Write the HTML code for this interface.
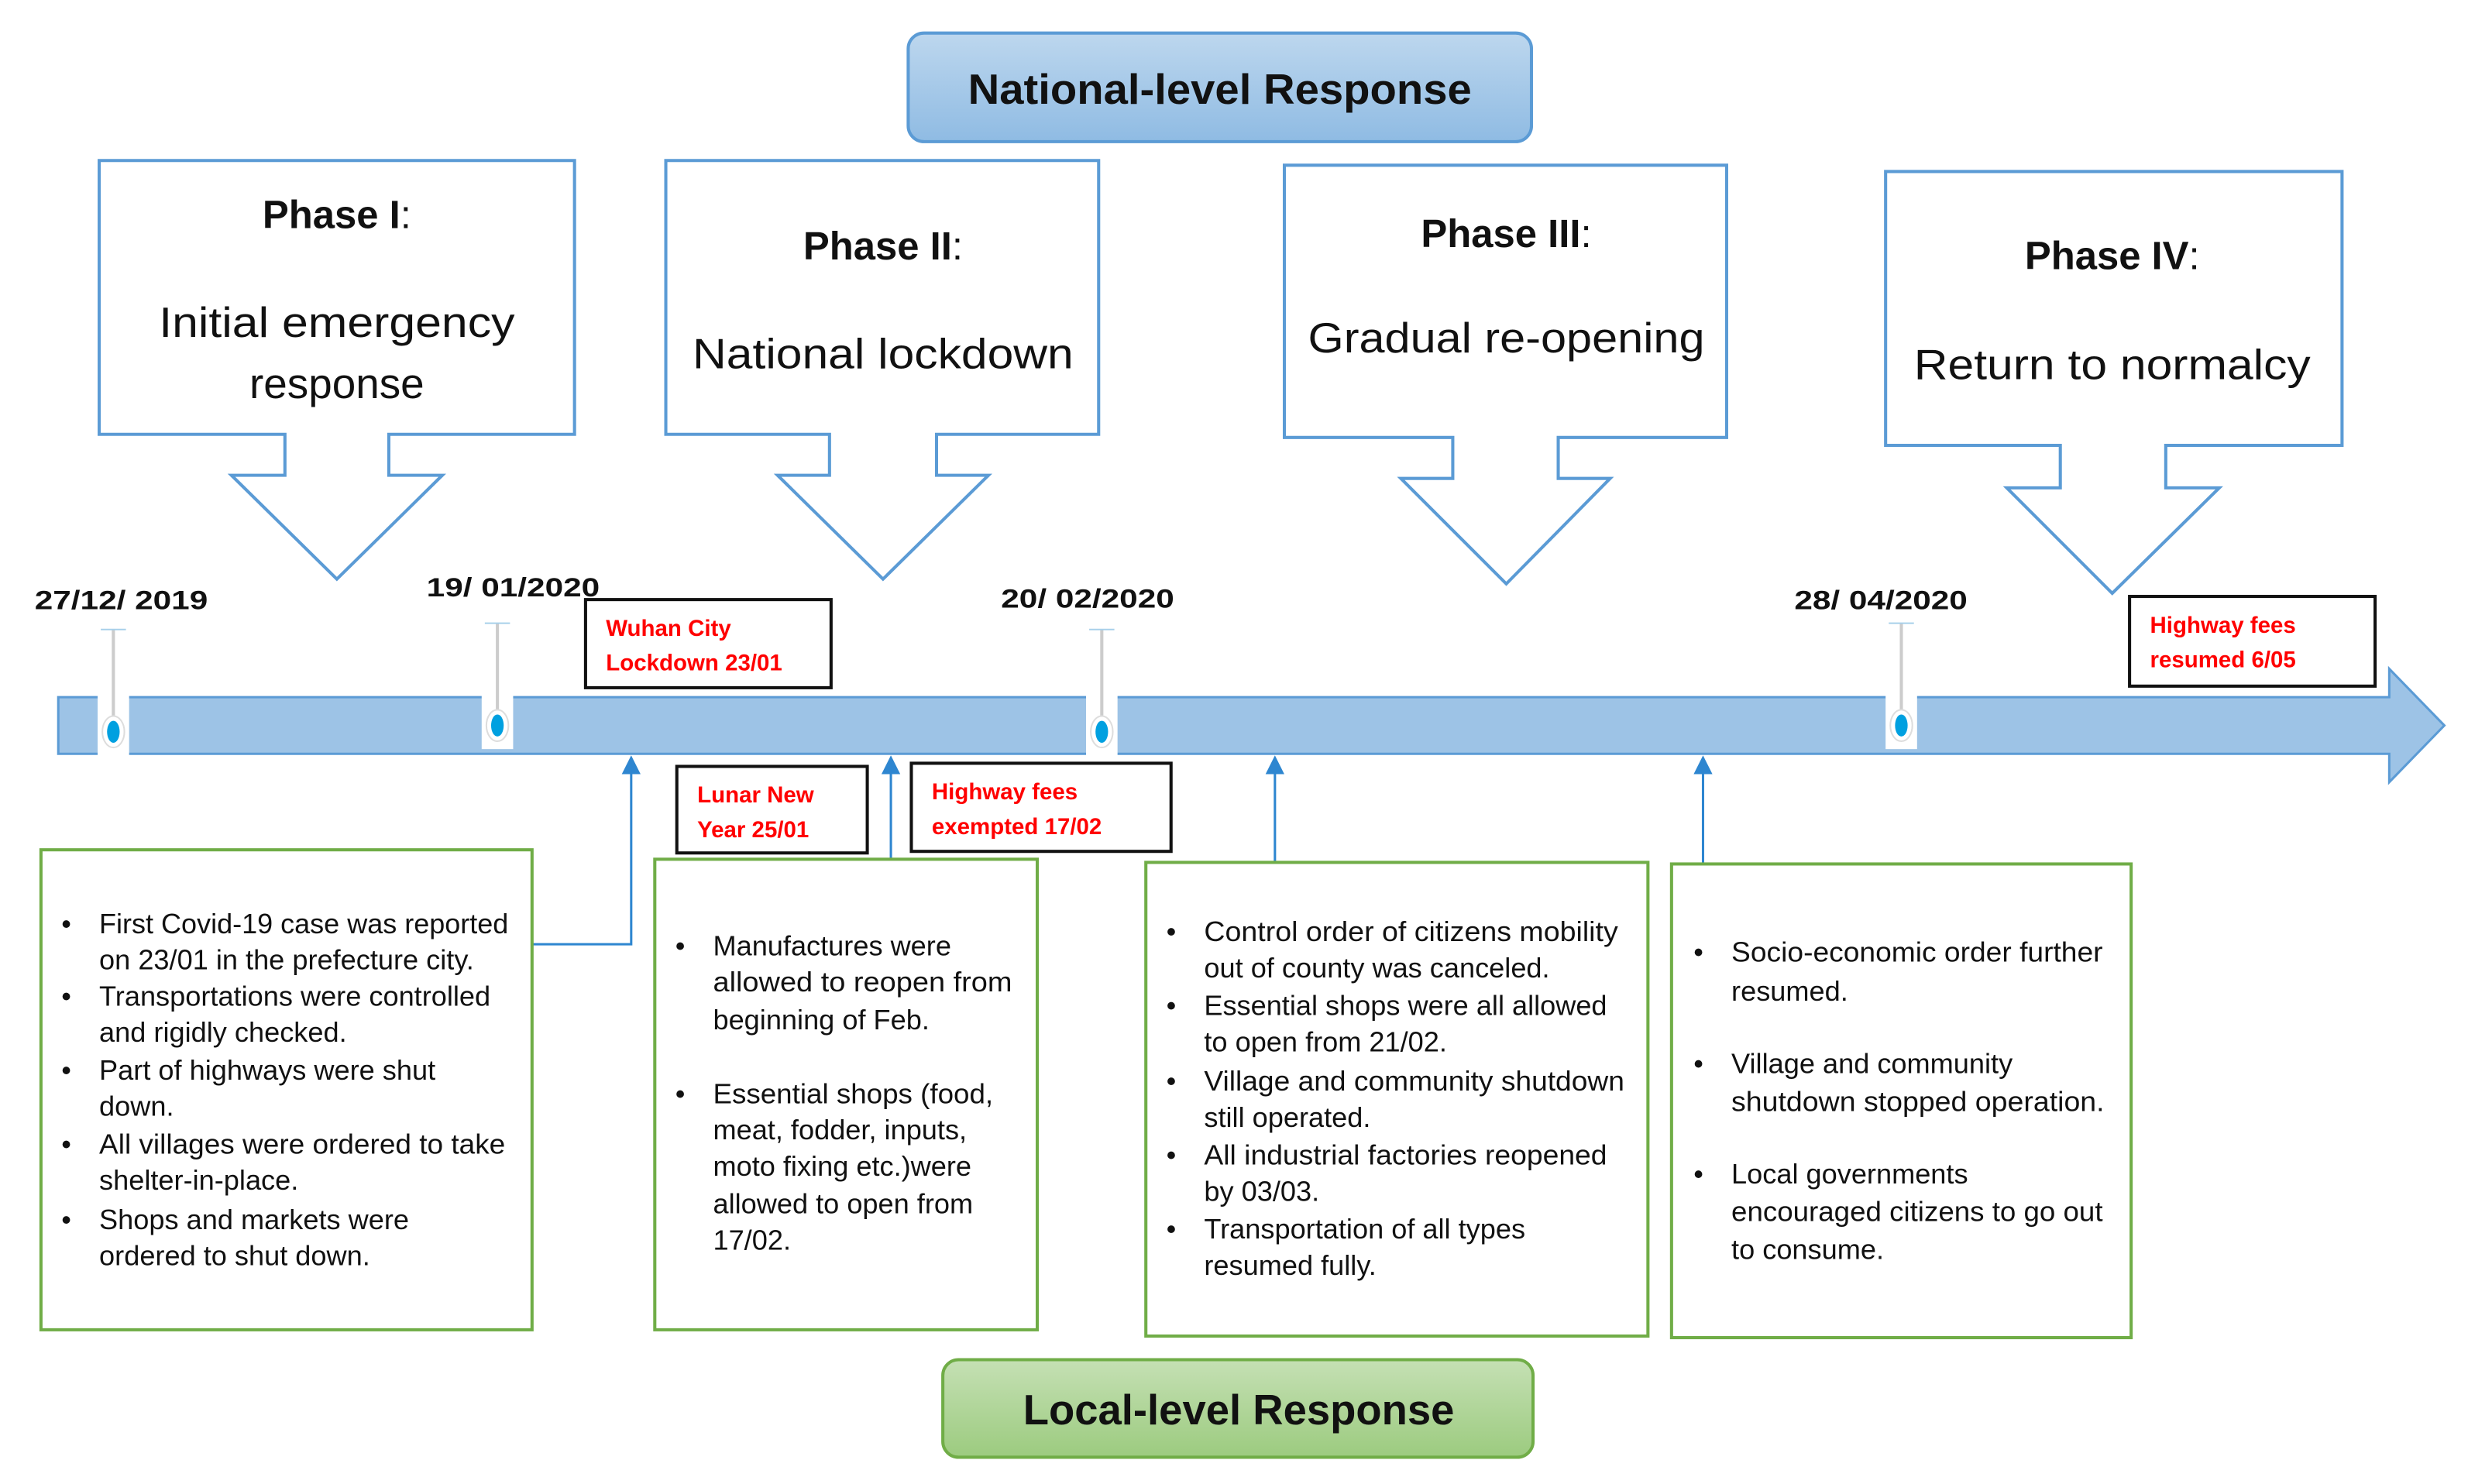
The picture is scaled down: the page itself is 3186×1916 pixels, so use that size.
<!DOCTYPE html>
<html><head><meta charset="utf-8"><style>
html,body{margin:0;padding:0;background:#fff;}
svg{display:block;}
text{font-family:"Liberation Sans",sans-serif;}
.b{font-size:17.8px;fill:#111;}
.r{font-size:14.5px;fill:#ff0000;font-weight:bold;}
.d{font-size:17px;font-weight:bold;fill:#111;}
.ph{font-size:25px;font-weight:bold;fill:#111;text-anchor:middle;}
.pt{font-size:27px;fill:#111;text-anchor:middle;}
</style></head><body>
<svg width="3186" height="1916" viewBox="0 0 1568 943" xmlns="http://www.w3.org/2000/svg">
<defs>
<linearGradient id="gb" x1="0" y1="0" x2="0" y2="1"><stop offset="0" stop-color="#bdd7ee"/><stop offset="1" stop-color="#8fbbe3"/></linearGradient>
<linearGradient id="gg" x1="0" y1="0" x2="0" y2="1"><stop offset="0" stop-color="#c5e0b4"/><stop offset="1" stop-color="#9ccb7f"/></linearGradient>
<marker id="ah" markerWidth="8" markerHeight="8" refX="4" refY="4" orient="auto"><path d="M0,0 L8,4 L0,8 z" fill="#2e86d0"/></marker>
</defs>
<rect width="1568" height="943" fill="#fff"/>
<rect x="577" y="21" width="396" height="69" rx="10" fill="url(#gb)" stroke="#5b9bd5" stroke-width="2"/>
<text x="775" y="66" text-anchor="middle" font-size="27" font-weight="bold" fill="#111" textLength="320" lengthAdjust="spacingAndGlyphs">National-level Response</text>
<g fill="#fff" stroke="#5b9bd5" stroke-width="2">
<path d="M63,102 H365 V276 H247 V302 H281 L214,368 L147,302 H181 V276 H63 Z"/>
<path d="M423,102 H698 V276 H595 V302 H628 L561,368 L494,302 H527 V276 H423 Z"/>
<path d="M816,105 H1097 V278 H990 V304 H1023 L957,371 L890,304 H923 V278 H816 Z"/>
<path d="M1198,109 H1488 V283 H1376 V310 H1410 L1342,377 L1275,310 H1309 V283 H1198 Z"/>
</g>
<text class="ph" x="214" y="145">Phase I<tspan font-weight="normal">:</tspan></text>
<text class="pt" x="214" y="214" textLength="226" lengthAdjust="spacingAndGlyphs">Initial emergency</text>
<text class="pt" x="214" y="253">response</text>
<text class="ph" x="561" y="165">Phase II<tspan font-weight="normal">:</tspan></text>
<text class="pt" x="561" y="234" textLength="242" lengthAdjust="spacingAndGlyphs">National lockdown</text>
<text class="ph" x="957" y="157">Phase III<tspan font-weight="normal">:</tspan></text>
<text class="pt" x="957" y="224" textLength="252" lengthAdjust="spacingAndGlyphs">Gradual re-opening</text>
<text class="ph" x="1342" y="171">Phase IV<tspan font-weight="normal">:</tspan></text>
<text class="pt" x="1342" y="241" textLength="252" lengthAdjust="spacingAndGlyphs">Return to normalcy</text>
<path d="M37,443 H1518 V425 L1553,461 L1518,497 V479 H37 Z" fill="#9dc3e6" stroke="#5b9bd5" stroke-width="1.5"/>
<g>
<rect x="62" y="440" width="20" height="42" fill="#fff"/><line x1="72" y1="400" x2="72" y2="455" stroke="#ccc" stroke-width="2"/><line x1="64" y1="400" x2="80" y2="400" stroke="#a8d0ea"/><ellipse cx="72" cy="465" rx="7" ry="10" fill="#fff" stroke="#ddd"/><ellipse cx="72" cy="465" rx="4" ry="7" fill="#00a0e0"/>
<rect x="306" y="436" width="20" height="40" fill="#fff"/><line x1="316" y1="396" x2="316" y2="451" stroke="#ccc" stroke-width="2"/><line x1="308" y1="396" x2="324" y2="396" stroke="#a8d0ea"/><ellipse cx="316" cy="461" rx="7" ry="10" fill="#fff" stroke="#ddd"/><ellipse cx="316" cy="461" rx="4" ry="7" fill="#00a0e0"/>
<rect x="690" y="440" width="20" height="42" fill="#fff"/><line x1="700" y1="400" x2="700" y2="455" stroke="#ccc" stroke-width="2"/><line x1="692" y1="400" x2="708" y2="400" stroke="#a8d0ea"/><ellipse cx="700" cy="465" rx="7" ry="10" fill="#fff" stroke="#ddd"/><ellipse cx="700" cy="465" rx="4" ry="7" fill="#00a0e0"/>
<rect x="1198" y="436" width="20" height="40" fill="#fff"/><line x1="1208" y1="396" x2="1208" y2="451" stroke="#ccc" stroke-width="2"/><line x1="1200" y1="396" x2="1216" y2="396" stroke="#a8d0ea"/><ellipse cx="1208" cy="461" rx="7" ry="10" fill="#fff" stroke="#ddd"/><ellipse cx="1208" cy="461" rx="4" ry="7" fill="#00a0e0"/>
</g>
<text class="d" x="22" y="387" textLength="110" lengthAdjust="spacingAndGlyphs">27/12/ 2019</text>
<text class="d" x="271" y="379" textLength="110" lengthAdjust="spacingAndGlyphs">19/ 01/2020</text>
<text class="d" x="636" y="386" textLength="110" lengthAdjust="spacingAndGlyphs">20/ 02/2020</text>
<text class="d" x="1140" y="387" textLength="110" lengthAdjust="spacingAndGlyphs">28/ 04/2020</text>
<g fill="#fff" stroke="#111" stroke-width="2">
<rect x="372" y="381" width="156" height="56"/>
<rect x="430" y="487" width="121" height="55"/>
<rect x="579" y="485" width="165" height="56"/>
<rect x="1353" y="379" width="156" height="57"/>
</g>
<text class="r" x="385" y="404">Wuhan City</text><text class="r" x="385" y="426">Lockdown  23/01</text>
<text class="r" x="443" y="510">Lunar New</text><text class="r" x="443" y="532">Year 25/01</text>
<text class="r" x="592" y="508">Highway fees</text><text class="r" x="592" y="530">exempted 17/02</text>
<text class="r" x="1366" y="402">Highway fees</text><text class="r" x="1366" y="424">resumed 6/05</text>
<g stroke="#2e86d0" stroke-width="1.5" fill="none">
<path d="M338,600 H401 V486" marker-end="url(#ah)"/>
<path d="M566,546 V486" marker-end="url(#ah)"/>
<path d="M810,548 V486" marker-end="url(#ah)"/>
<path d="M1082,549 V486" marker-end="url(#ah)"/>
</g>
<g fill="#fff" stroke="#70ad47" stroke-width="2">
<rect x="26" y="540" width="312" height="305"/>
<rect x="416" y="546" width="243" height="299"/>
<rect x="728" y="548" width="319" height="301"/>
<rect x="1062" y="549" width="292" height="301"/>
</g>
<g class="b">
<text x="39" y="593">•</text><text x="63" y="593" textLength="260" lengthAdjust="spacingAndGlyphs">First Covid-19 case was reported</text>
<text x="63" y="616">on 23/01 in the prefecture city.</text>
<text x="39" y="639">•</text><text x="63" y="639">Transportations were controlled</text>
<text x="63" y="662">and rigidly checked.</text>
<text x="39" y="686">•</text><text x="63" y="686">Part of highways were shut</text>
<text x="63" y="709">down.</text>
<text x="39" y="733">•</text><text x="63" y="733" textLength="258" lengthAdjust="spacingAndGlyphs">All villages were ordered to take</text>
<text x="63" y="756">shelter-in-place.</text>
<text x="39" y="781">•</text><text x="63" y="781">Shops and markets were</text>
<text x="63" y="804">ordered to shut down.</text>

<text x="429" y="607">•</text><text x="453" y="607">Manufactures were</text>
<text x="453" y="630" textLength="190" lengthAdjust="spacingAndGlyphs">allowed to reopen from</text>
<text x="453" y="654">beginning of Feb.</text>
<text x="429" y="701">•</text><text x="453" y="701" textLength="178" lengthAdjust="spacingAndGlyphs">Essential shops  (food,</text>
<text x="453" y="724">meat, fodder, inputs,</text>
<text x="453" y="747">moto fixing etc.)were</text>
<text x="453" y="771">allowed to open from</text>
<text x="453" y="794">17/02.</text>

<text x="741" y="598">•</text><text x="765" y="598" textLength="263" lengthAdjust="spacingAndGlyphs">Control order of citizens mobility</text>
<text x="765" y="621">out of county was canceled.</text>
<text x="741" y="645">•</text><text x="765" y="645" textLength="256" lengthAdjust="spacingAndGlyphs">Essential shops were all allowed</text>
<text x="765" y="668">to open from 21/02.</text>
<text x="741" y="693">•</text><text x="765" y="693" textLength="267" lengthAdjust="spacingAndGlyphs">Village and community shutdown</text>
<text x="765" y="716">still operated.</text>
<text x="741" y="740">•</text><text x="765" y="740" textLength="256" lengthAdjust="spacingAndGlyphs">All industrial factories reopened</text>
<text x="765" y="763">by 03/03.</text>
<text x="741" y="787">•</text><text x="765" y="787">Transportation of all types</text>
<text x="765" y="810">resumed fully.</text>

<text x="1076" y="611">•</text><text x="1100" y="611" textLength="236" lengthAdjust="spacingAndGlyphs">Socio-economic order further</text>
<text x="1100" y="636">resumed.</text>
<text x="1076" y="682">•</text><text x="1100" y="682">Village and community</text>
<text x="1100" y="706" textLength="237" lengthAdjust="spacingAndGlyphs">shutdown stopped operation.</text>
<text x="1076" y="752">•</text><text x="1100" y="752">Local governments</text>
<text x="1100" y="776" textLength="236" lengthAdjust="spacingAndGlyphs">encouraged citizens to go out</text>
<text x="1100" y="800">to consume.</text>
</g>
<rect x="599" y="864" width="375" height="62" rx="10" fill="url(#gg)" stroke="#70ad47" stroke-width="2"/>
<text x="787" y="905" text-anchor="middle" font-size="27" font-weight="bold" fill="#111" textLength="274" lengthAdjust="spacingAndGlyphs">Local-level Response</text>
</svg>
</body></html>
